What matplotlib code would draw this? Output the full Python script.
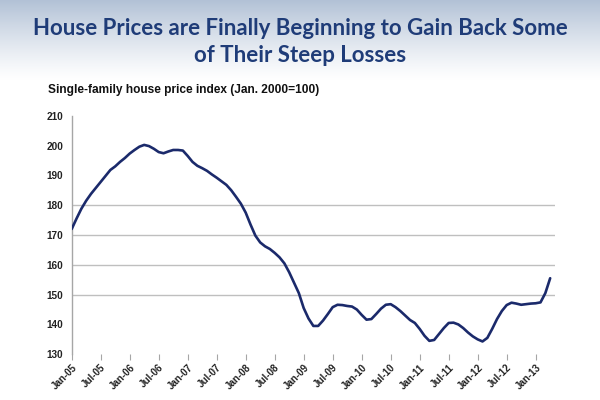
import numpy as np
import matplotlib
matplotlib.use("Agg")
import matplotlib.pyplot as plt

# months from Jan-05 (0) to Apr-13 (99)
price_index = [
    172.0, 175.5, 178.8, 181.5, 183.8, 185.8, 187.8, 189.8, 191.8, 193.0,
    194.5, 195.8, 197.3, 198.5, 199.6, 200.2, 199.8, 198.9, 197.8, 197.4,
    198.0, 198.5, 198.5, 198.3, 196.5, 194.5, 193.2, 192.4, 191.5, 190.3,
    189.2, 188.0, 186.8, 185.0, 182.8, 180.5, 177.5, 173.5, 169.8, 167.5,
    166.2, 165.3, 164.0, 162.5, 160.5, 157.5, 154.0, 150.5, 145.5, 142.0,
    139.5, 139.5, 141.3, 143.5, 145.8, 146.6, 146.5, 146.2, 146.0, 145.0,
    143.2, 141.6, 141.8, 143.5, 145.3, 146.6, 146.8, 145.8, 144.5, 143.0,
    141.5, 140.5, 138.5, 136.2, 134.5, 134.8, 136.8, 138.8, 140.5, 140.6,
    140.0, 138.8, 137.3, 136.0, 135.0, 134.3, 135.5, 138.5, 141.8, 144.5,
    146.5, 147.3, 147.0, 146.6, 146.8, 147.0, 147.1, 147.4, 150.5, 155.5,
]
tick_labels = ["Jan-05", "Jul-05", "Jan-06", "Jul-06", "Jan-07", "Jul-07",
               "Jan-08", "Jul-08", "Jan-09", "Jul-09", "Jan-10", "Jul-10",
               "Jan-11", "Jul-11", "Jan-12", "Jul-12", "Jan-13"]
y_ticks = [130, 140, 150, 160, 170, 180, 190, 200, 210]
grid_values = [150, 160, 170, 180]

title = "House Prices are Finally Beginning to Gain Back Some\nof Their Steep Losses"
subtitle = "Single-family house price index (Jan. 2000=100)"

fig = plt.figure(figsize=(6, 4), dpi=100)

# slide header gradient
bg = fig.add_axes([0, 0, 1, 1], zorder=0)
grad = np.linspace(0, 1, 400)[:, None]
fade = np.clip(1 - grad / 0.2, 0, 1) ** 1.2
top = np.array([0.70, 0.76, 0.84])
img = 1 - fade[:, :, None] * (1 - top)[None, None, :]
img = np.repeat(img, 2, axis=1)
bg.imshow(img, aspect="auto", extent=[0, 1, 0, 1], origin="upper")
bg.axis("off")

fig.text(0.5, 0.895, title, ha="center", va="center", fontsize=16,
         fontweight="bold", family="Lato", color="#1f3c78", linespacing=1.35)
fig.text(0.08, 0.775, subtitle, ha="left", va="center", fontsize=8.6,
         fontweight="bold", family="Liberation Sans", color="#111111")

ax = fig.add_axes([0.1195, 0.1143, 0.8055, 0.5965], zorder=1)
ax.patch.set_alpha(0)

months = np.arange(len(price_index))
for g in grid_values:
    ax.axhline(g, color="#bfbfbf", lw=1.0, zorder=1)
ax.plot(months, price_index, color="#1b2a6b", lw=1.9, zorder=3,
        solid_joinstyle="round", solid_capstyle="round")

ax.set_xlim(0, 100)
ax.set_ylim(130, 210)
ax.set_yticks(y_ticks)
ax.set_yticklabels([str(v) for v in y_ticks], fontsize=7.2, fontweight="bold",
                   family="Liberation Sans", color="#222222")
ax.set_xticks(np.arange(0, 97, 6))
ax.set_xticklabels(tick_labels, rotation=45, ha="right", rotation_mode="anchor",
                   fontsize=7, fontweight="bold", family="Liberation Sans",
                   color="#222222")

for s in ["top", "right", "bottom"]:
    ax.spines[s].set_visible(False)
ax.spines["left"].set_color("#a6a6a6")
ax.spines["left"].set_linewidth(1.0)
ax.tick_params(axis="y", length=0, pad=6)
ax.tick_params(axis="x", length=4, width=0.8, color="#a6a6a6", pad=2)

fig.savefig("out.png", dpi=100)
